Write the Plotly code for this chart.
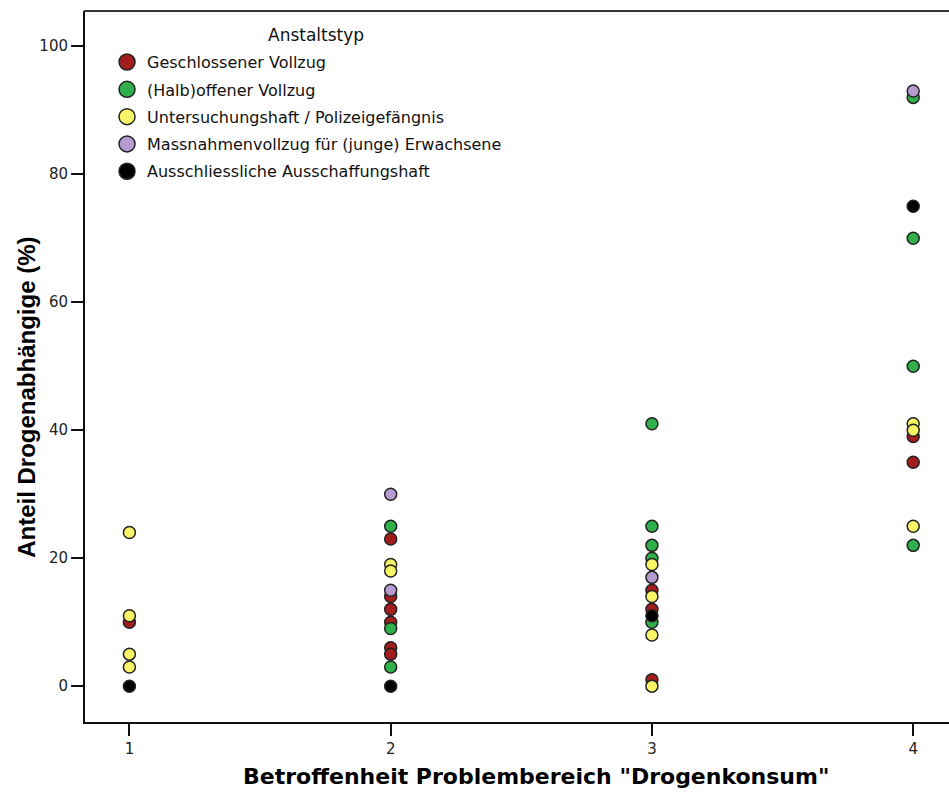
import plotly.graph_objects as go

categories = ["Geschlossener Vollzug", "(Halb)offener Vollzug",
              "Untersuchungshaft / Polizeigefängnis",
              "Massnahmenvollzug für (junge) Erwachsene",
              "Ausschliessliche Ausschaffungshaft"]
colors = ["#a31d1d", "#2fb04a", "#f7f566", "#b59bd0", "#000000"]

red_x = [1, 2, 2, 2, 2, 2, 2, 3, 3, 3, 4, 4]
red_y = [10, 23, 14, 12, 10, 6, 5, 15, 12, 1, 39, 35]
green_x = [2, 2, 2, 3, 3, 3, 3, 3, 4, 4, 4, 4]
green_y = [25, 9, 3, 41, 25, 22, 20, 10, 92, 70, 50, 22]
yellow_x = [1, 1, 1, 1, 2, 2, 3, 3, 3, 3, 4, 4, 4]
yellow_y = [24, 11, 5, 3, 19, 18, 19, 14, 8, 0, 41, 40, 25]
purple_x = [2, 2, 3, 4]
purple_y = [30, 15, 17, 93]
black_x = [1, 2, 3, 4]
black_y = [0, 0, 11, 75]

series = [(red_x, red_y), (green_x, green_y), (yellow_x, yellow_y),
          (purple_x, purple_y), (black_x, black_y)]

x_ticks = [1, 2, 3, 4]
y_ticks = [0, 20, 40, 60, 80, 100]

wide = "'DejaVu Sans', Verdana, sans-serif"
narrow = "Arial, 'Liberation Sans', sans-serif"

fig = go.Figure()
for (xs, ys), name, col in zip(series, categories, colors):
    fig.add_trace(go.Scatter(
        x=xs, y=ys, mode="markers", name=name, showlegend=False,
        marker=dict(size=12, color=col, line=dict(color="#222222", width=1.5)),
    ))
for i, (name, col) in enumerate(zip(categories, colors)):
    fig.add_trace(go.Scatter(
        x=[None], y=[None], mode="markers", name=name, legendgroup=str(i),
        marker=dict(size=18, color=col, line=dict(color="#222222", width=1.5)),
    ))

fig.add_annotation(
    text="Anstaltstyp", xref="paper", yref="paper", x=0.267, y=0.966,
    xanchor="center", yanchor="middle", showarrow=False,
    font=dict(family=wide, size=17, color="#111111"),
)
fig.add_annotation(
    text='<b>Betroffenheit Problembereich "Drogenkonsum"</b>',
    xref="paper", yref="paper", x=0.522, y=-0.076,
    xanchor="center", yanchor="middle", showarrow=False,
    font=dict(family=wide, size=22, color="#000000"),
)
fig.add_annotation(
    text="<b>Anteil Drogenabhängige (%)</b>",
    xref="paper", yref="paper", x=-0.0671, y=0.456, textangle=-90,
    xanchor="center", yanchor="middle", showarrow=False,
    font=dict(family=narrow, size=24, color="#000000"),
)
# top frame line of the plot area (no right frame in the reference)
fig.add_shape(type="line", xref="paper", yref="paper", x0=-0.001, x1=1.01, y0=1, y1=1,
              line=dict(color="#333333", width=2))
# keep the right edge of the plot area open, as in the cropped reference
fig.add_shape(type="line", xref="paper", yref="paper", x0=1, x1=1, y0=0.003, y1=0.997,
              line=dict(color="white", width=6), layer="above")

fig.update_layout(
    width=949, height=792,
    margin=dict(l=85, r=0, t=11, b=70),
    paper_bgcolor="white", plot_bgcolor="white",
    font=dict(family=wide, size=15, color="#000000"),
    legend=dict(
        x=0.0255, y=0.952, xanchor="left", yanchor="top",
        font=dict(size=16, family=wide, color="#111111"),
        itemsizing="trace", tracegroupgap=3.5,
        bgcolor="rgba(0,0,0,0)",
    ),
    xaxis=dict(
        range=[0.83, 4.137], tickvals=x_ticks, ticktext=[str(v) for v in x_ticks],
        showgrid=False, zeroline=False,
        showline=True, linecolor="#111111", linewidth=2, mirror=False,
        ticks="outside", ticklen=12, tickwidth=2, tickcolor="#111111",
        tickfont=dict(size=15, family=wide, color="#222222"),
    ),
    yaxis=dict(
        range=[-5.6, 105.5], tickvals=y_ticks, ticktext=[str(v) for v in y_ticks],
        showgrid=False, zeroline=False,
        showline=True, linecolor="#111111", linewidth=2, mirror=False,
        ticks="outside", ticklen=12, tickwidth=2, tickcolor="#111111",
        tickfont=dict(size=15, family=wide, color="#222222"),
    ),
)

post = ("document.body.style.margin='0';"
        "document.body.style.padding='0';"
        "document.body.style.overflow='hidden';"
        "document.documentElement.style.overflow='hidden';"
        "document.documentElement.style.background='white';")

fig.write_html("out.html", post_script=post, config={"displayModeBar": False})
